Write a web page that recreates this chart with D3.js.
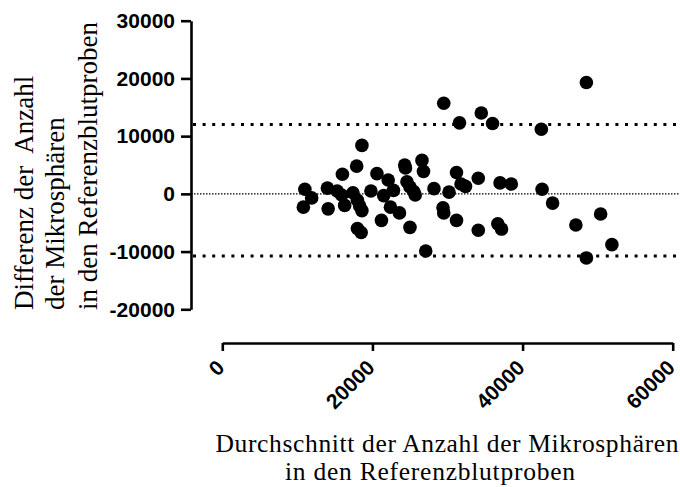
<!DOCTYPE html>
<html>
<head>
<meta charset="utf-8">
<script src="https://cdn.jsdelivr.net/npm/d3@7"></script>
<style>
  body { margin: 0; background: #fff; }
  svg { display: block; }
</style>
</head>
<body>
<div id="chart"></div>
<script>
// Bland-Altman: mean vs difference of microsphere counts
var meanVals = [48500, 29500, 34500, 31600, 36000, 42500, 18600, 17900, 16000, 20600,
  22100, 24300, 24400, 26600, 26800, 31200, 31800, 32400, 34100, 37000,
  38500, 28200, 30200, 42600, 44000, 29400, 29500, 31200, 50400, 34100,
  36700, 37200, 47100, 51900, 48500, 27100, 11000, 11900, 10800, 14000,
  14100, 15300, 15900, 16300, 17400, 18000, 18300, 18600, 19800, 21500,
  22800, 22400, 23600, 21200, 24600, 25000, 25500, 25700, 25000, 18000, 18500];
var diffVals = [19300, 15700, 14000, 12300, 12200, 11200, 8400, 4800, 3400, 3500,
  2400, 5000, 4500, 5800, 3900, 3700, 1700, 1300, 2700, 1900,
  1700, 900, 300, 800, -1600, -2400, -3300, -4600, -3500, -6300,
  -5200, -6100, -5400, -8800, -11100, -9900, 800, -700, -2300, 1000,
  -2600, 500, -200, -2000, 200, -1100, -2100, -2900, 500, -300,
  600, -2300, -3300, -4600, 2100, 1200, 400, -200, -5800, -6000, -6700];
var limits = [12000, -10750];
var xTicks = [0, 20000, 40000, 60000];
var yTicks = [-20000, -10000, 0, 10000, 20000, 30000];
var xTitle = ["Durchschnitt der Anzahl der Mikrosphären", "in den Referenzblutproben"];
var yTitle = ["Differenz der  Anzahl", "der Mikrosphären", "in den Referenzblutproben"];

var W = 680, H = 487;
var svg = d3.select("#chart").append("svg").attr("width", W).attr("height", H);

var x = d3.scaleLinear().domain([0, 60000]).range([222.3, 672.7]);
var y = d3.scaleLinear().domain([-20000, 30000]).range([309.3, 20.7]);
var yAxisX = 191, xAxisY = 343;
var fmt = function(d){ return String(d); };  // plain hyphen for negatives

// reference lines
svg.append("line")
  .attr("x1", yAxisX).attr("x2", W)
  .attr("y1", y(0)).attr("y2", y(0))
  .attr("stroke", "#000").attr("stroke-width", 1.1)
  .attr("stroke-dasharray", "1.5,1.5");

svg.selectAll("line.lim").data(limits).enter().append("line")
  .attr("class", "lim")
  .attr("x1", yAxisX + 2).attr("x2", W)
  .attr("y1", function(d){ return y(d); }).attr("y2", function(d){ return y(d); })
  .attr("stroke", "#000").attr("stroke-width", 3)
  .attr("stroke-dasharray", "3,6.6");

// points
svg.selectAll("circle").data(meanVals).enter().append("circle")
  .attr("cx", function(d){ return x(d); })
  .attr("cy", function(d, i){ return y(diffVals[i]); })
  .attr("r", 6.8)
  .attr("fill", "#000");

// y axis
var gy = svg.append("g").attr("transform", "translate(" + yAxisX + ",0)")
  .call(d3.axisLeft(y).tickValues(yTicks).tickSize(10).tickSizeOuter(0).tickPadding(6)
    .tickFormat(fmt));
gy.select(".domain").attr("stroke-width", 2.6);
gy.selectAll(".tick line").attr("stroke-width", 2.6);
gy.selectAll(".tick text")
  .attr("font-family", "'Liberation Sans', Arial, sans-serif")
  .attr("font-weight", "bold").attr("font-size", 21).attr("fill", "#000");

// x axis
var gx = svg.append("g").attr("transform", "translate(0," + xAxisY + ")")
  .call(d3.axisBottom(x).tickValues(xTicks).tickSize(8).tickSizeOuter(0)
    .tickFormat(fmt));
gx.select(".domain").attr("stroke-width", 2.6);
gx.selectAll(".tick line").attr("stroke-width", 2.6);
gx.selectAll(".tick text")
  .attr("font-family", "'Liberation Sans', Arial, sans-serif")
  .attr("font-weight", "bold").attr("font-size", 21).attr("fill", "#000")
  .attr("x", 0).attr("y", 0).attr("dy", 0)
  .attr("text-anchor", "end")
  .attr("transform", "translate(3,26) rotate(-45)");

// titles
var serif = "'Liberation Serif', 'Times New Roman', serif";
svg.selectAll("text.xt").data(xTitle).enter().append("text")
  .attr("class", "xt")
  .attr("x", function(d, i){ return i === 0 ? 447 : 430; })
  .attr("y", function(d, i){ return 451.5 + i * 28.5; })
  .attr("text-anchor", "middle")
  .attr("font-family", serif).attr("font-size", 25.5).attr("fill", "#000")
  .attr("textLength", function(d, i){ return i === 0 ? 463 : 290; })
  .attr("lengthAdjust", "spacing")
  .text(function(d){ return d; });

svg.selectAll("text.yt").data(yTitle).enter().append("text")
  .attr("class", "yt")
  .attr("transform", function(d, i){ return "translate(" + [33, 64, 97][i] + ",310) rotate(-90)"; })
  .attr("text-anchor", "start")
  .attr("font-family", serif).attr("font-size", 27).attr("fill", "#000")
  .style("white-space", "pre")
  .text(function(d){ return d; });
</script>
</body>
</html>
